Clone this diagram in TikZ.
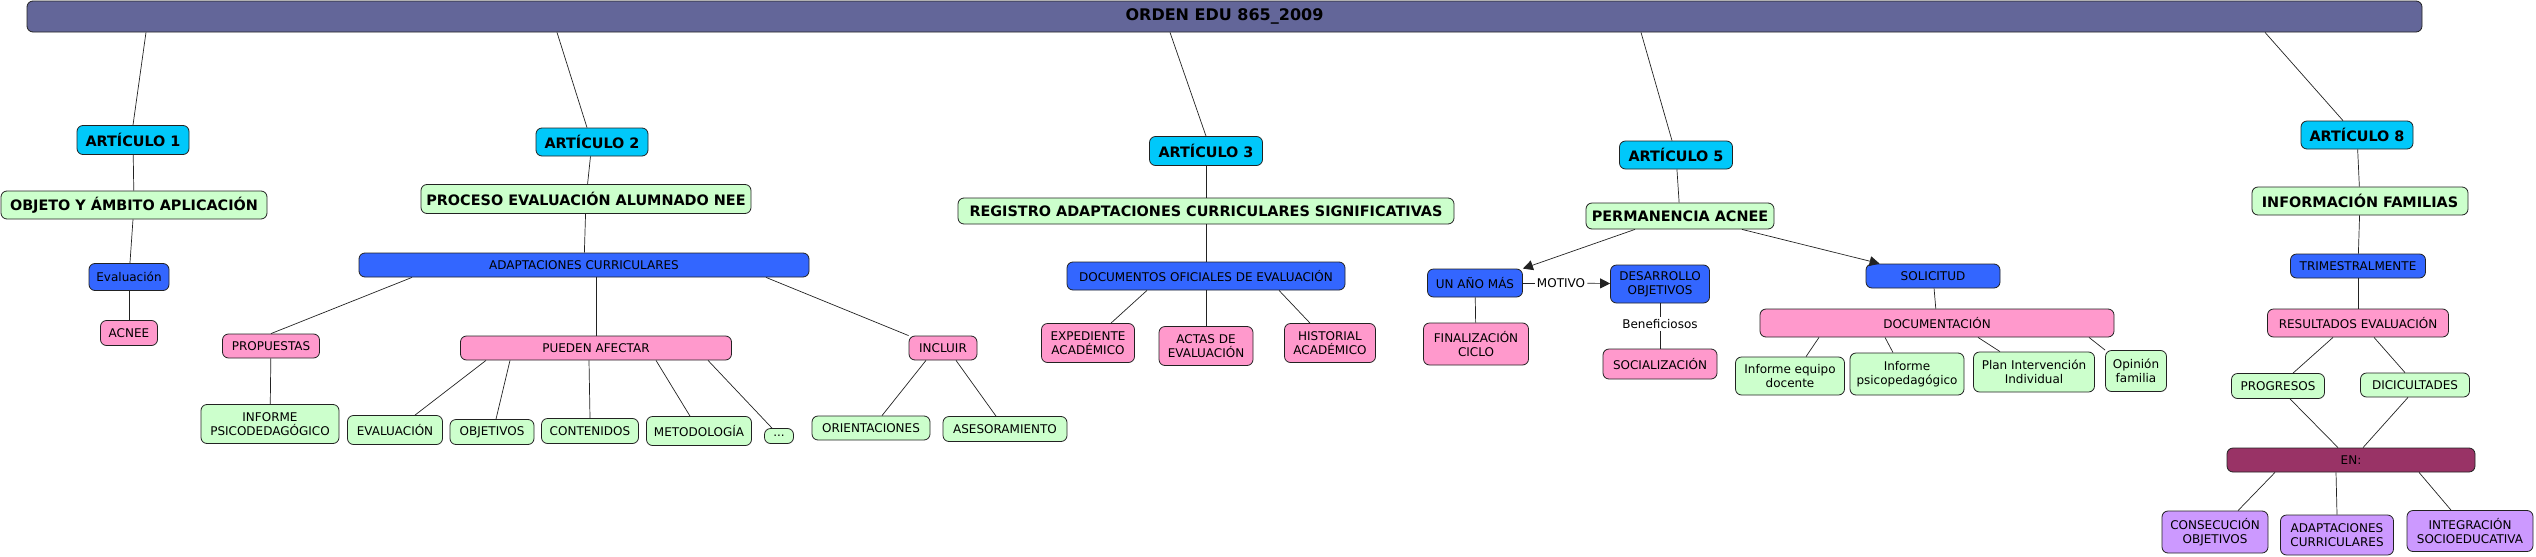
\documentclass[tikz,border=0pt]{standalone}
\usepackage{fontspec}
\setmainfont{DejaVu Sans}
\usetikzlibrary{arrows.meta}
\definecolor{bdr}{HTML}{222222}
\definecolor{cTit}{HTML}{636699}
\definecolor{cArt}{HTML}{00C8FA}
\definecolor{cVerde}{HTML}{CCFFCC}
\definecolor{cAzul}{HTML}{3366FF}
\definecolor{cRosa}{HTML}{FF99CC}
\definecolor{cEn}{HTML}{993366}
\definecolor{cLila}{HTML}{CC99FF}
\tikzset{
  % concept boxes (all rounded, thin dark border)
  box/.style={draw=bdr, rounded corners=6pt, line width=0.8pt, align=center,
    inner sep=2pt, font=\fontsize{12}{14.3}\selectfont},
  art/.style={box, fill=cArt, font=\fontsize{14.4}{17}\selectfont\bfseries},   % ARTÍCULO n
  tema/.style={box, fill=cVerde, font=\fontsize{14.4}{17}\selectfont\bfseries},% article topic
  azul/.style={box, fill=cAzul},
  rosa/.style={box, fill=cRosa},
  verde/.style={box, fill=cVerde},
  lila/.style={box, fill=cLila},
  % link phrases sitting on a connector
  frase/.style={fill=white, inner sep=2pt, font=\fontsize{12}{14.3}\selectfont},
  E/.style={draw=bdr, line width=0.7pt},
  A/.style={E, -{Triangle[length=10pt,width=10pt]}},
}

\begin{document}
\begin{tikzpicture}[x=1pt, y=-1pt]
\useasboundingbox (0,0) rectangle (2536,557);

% =====================================================================
% TITLE BAR
% =====================================================================
\node[box, fill=cTit, minimum width=2395pt, minimum height=31pt,
      font=\fontsize{16}{19}\selectfont\bfseries] (top) at (1224.5,16.5) {ORDEN EDU 865\_2009};

% =====================================================================
% ARTÍCULO 1
% =====================================================================
\node[art, minimum width=112pt, minimum height=29pt] (a1) at (133,140) {ARTÍCULO 1};
\node[tema, minimum width=266pt, minimum height=28pt] (obj) at (134,205) {OBJETO Y ÁMBITO APLICACIÓN};
\node[azul, minimum width=80pt, minimum height=27pt] (eva) at (129,277) {Evaluación};
\node[rosa, minimum width=57pt, minimum height=25pt] (acnee) at (129,333) {ACNEE};

\draw[E] ([xshift=-1078.5pt]top.south) -- (a1.north);
\draw[E] (a1) -- (obj);
\draw[E] (obj) -- (eva);
\draw[E] (eva) -- (acnee);

% =====================================================================
% ARTÍCULO 2
% =====================================================================
\node[art, minimum width=112pt, minimum height=28pt] (a2) at (592,142) {ARTÍCULO 2};
\node[tema, minimum width=330pt, minimum height=29pt] (proc) at (586,199) {PROCESO EVALUACIÓN ALUMNADO NEE};
\node[azul, minimum width=450pt, minimum height=24pt] (adap) at (584,265) {ADAPTACIONES CURRICULARES};

\node[rosa, minimum width=97pt, minimum height=24pt] (prop) at (271,346) {PROPUESTAS};
\node[verde, minimum width=138pt, minimum height=39pt] (infp) at (270,424) {INFORME\\PSICODEDAGÓGICO};

\node[rosa, minimum width=271pt, minimum height=24pt] (afec) at (596,348) {PUEDEN AFECTAR};
\node[verde, minimum width=95pt, minimum height=29pt] (kev) at (395,430) {EVALUACIÓN};
\node[verde, minimum width=84pt, minimum height=25pt] (kob) at (492,432) {OBJETIVOS};
\node[verde, minimum width=97pt, minimum height=25pt] (kco) at (590,431) {CONTENIDOS};
\node[verde, minimum width=105pt, minimum height=29pt] (kme) at (699,431) {METODOLOGÍA};
\node[verde, minimum width=29pt, minimum height=15pt, inner sep=0pt] (ket) at (779,436) {...};

\node[rosa, minimum width=68pt, minimum height=24pt] (incl) at (943,348) {INCLUIR};
\node[verde, minimum width=118pt, minimum height=24pt] (orie) at (871,428) {ORIENTACIONES};
\node[verde, minimum width=124pt, minimum height=25pt] (ases) at (1005,429) {ASESORAMIENTO};

\draw[E] ([xshift=-667.5pt]top.south) -- ([xshift=-5pt]a2.north);
\draw[E] (a2) -- (proc);
\draw[E] (proc) -- (adap);
\draw[E] ([xshift=-172pt]adap.south) -- (prop.north);
\draw[E] (prop) -- (infp);
\draw[E] ([xshift=12pt]adap.south) -- (afec.north);
\draw[E] ([xshift=182pt]adap.south) -- (incl.north west);
\draw[E] ([xshift=-110pt]afec.south) -- ([xshift=20pt]kev.north);
\draw[E] ([xshift=-86pt]afec.south) -- ([xshift=4pt]kob.north);
\draw[E] ([xshift=-7pt]afec.south) -- (kco.north);
\draw[E] ([xshift=60pt]afec.south) -- ([xshift=-9pt]kme.north);
\draw[E] ([xshift=112pt]afec.south) -- ([xshift=-7pt]ket.north);
\draw[E] ([xshift=-17pt]incl.south) -- ([xshift=11pt]orie.north);
\draw[E] ([xshift=13pt]incl.south) -- ([xshift=-9pt]ases.north);

% =====================================================================
% ARTÍCULO 3
% =====================================================================
\node[art, minimum width=113pt, minimum height=29pt] (a3) at (1206,151) {ARTÍCULO 3};
\node[tema, minimum width=496pt, minimum height=26pt] (reg) at (1206,211) {REGISTRO ADAPTACIONES CURRICULARES SIGNIFICATIVAS};
\node[azul, minimum width=278pt, minimum height=28pt] (doc) at (1206,276) {DOCUMENTOS OFICIALES DE EVALUACIÓN};
\node[rosa, minimum width=93pt, minimum height=39pt] (expd) at (1088,343) {EXPEDIENTE\\ACADÉMICO};
\node[rosa, minimum width=94pt, minimum height=39pt] (act) at (1206,346) {ACTAS DE\\EVALUACIÓN};
\node[rosa, minimum width=91pt, minimum height=39pt] (his) at (1330,343) {HISTORIAL\\ACADÉMICO};

\draw[E] ([xshift=-54.5pt]top.south) -- (a3.north);
\draw[E] (a3) -- (reg);
\draw[E] (reg) -- (doc);
\draw[E] ([xshift=-59pt]doc.south) -- ([xshift=23pt]expd.north);
\draw[E] (doc) -- (act);
\draw[E] ([xshift=73pt]doc.south) -- ([xshift=-20pt]his.north);

% =====================================================================
% ARTÍCULO 5
% =====================================================================
\node[art, minimum width=113pt, minimum height=28pt] (a5) at (1676,155) {ARTÍCULO 5};
\node[tema, minimum width=188pt, minimum height=26pt] (perm) at (1680,216) {PERMANENCIA ACNEE};
\node[azul, minimum width=95pt, minimum height=28pt] (anio) at (1475,283) {UN AÑO MÁS};
\node[frase] (moti) at (1561,283) {MOTIVO};
\node[azul, minimum width=99pt, minimum height=38pt] (desa) at (1660,284) {DESARROLLO\\OBJETIVOS};
\node[rosa, minimum width=105pt, minimum height=42pt] (fin) at (1476,344) {FINALIZACIÓN\\CICLO};
\node[frase] (bene) at (1660,324) {Beneficiosos};
\node[rosa, minimum width=114pt, minimum height=30pt] (soc) at (1660,364) {SOCIALIZACIÓN};

\node[azul, minimum width=134pt, minimum height=24pt] (sol) at (1933,276) {SOLICITUD};
\node[rosa, minimum width=354pt, minimum height=28pt] (docu) at (1937,323) {DOCUMENTACIÓN};
\node[verde, minimum width=109pt, minimum height=38pt] (ieq) at (1790,376) {Informe equipo\\docente};
\node[verde, minimum width=114pt, minimum height=42pt] (ips) at (1907,374) {Informe\\psicopedagógico};
\node[verde, minimum width=121pt, minimum height=40pt] (pii) at (2034,372) {Plan Intervención\\Individual};
\node[verde, minimum width=61pt, minimum height=41pt] (opi) at (2136,371) {Opinión\\familia};

\draw[E] ([xshift=416.5pt]top.south) -- ([xshift=-4pt]a5.north);
\draw[E] (a5) -- (perm);
\draw[A] ([xshift=-45pt]perm.south) -- (anio.north east);
\draw[A] ([xshift=62pt]perm.south) -- ([xshift=14pt]sol.north west);
\draw[E] (anio) -- (fin);
\draw[E] (anio) -- (moti);
\draw[A] (moti) -- (desa);
\draw[E] (desa) -- (bene);
\draw[E] (bene) -- (soc);
\draw[E] (sol) -- (docu);
\draw[E] ([xshift=-118pt]docu.south) -- ([xshift=16pt]ieq.north);
\draw[E] ([xshift=-52pt]docu.south) -- ([xshift=-14pt]ips.north);
\draw[E] ([xshift=41pt]docu.south) -- ([xshift=-34pt]pii.north);
\draw[E] ([xshift=152pt]docu.south) -- (opi.north west);

% =====================================================================
% ARTÍCULO 8
% =====================================================================
\node[art, minimum width=112pt, minimum height=28pt] (a8) at (2357,135) {ARTÍCULO 8};
\node[tema, minimum width=216pt, minimum height=28pt] (inf) at (2360,201) {INFORMACIÓN FAMILIAS};
\node[azul, minimum width=135pt, minimum height=24pt] (tri) at (2358,266) {TRIMESTRALMENTE};
\node[rosa, minimum width=181pt, minimum height=28pt] (res) at (2358,323) {RESULTADOS EVALUACIÓN};
\node[verde, minimum width=93pt, minimum height=25pt] (pro) at (2278,386) {PROGRESOS};
\node[verde, minimum width=109pt, minimum height=24pt] (dif) at (2415,385) {DICICULTADES};
\node[box, fill=cEn, minimum width=248pt, minimum height=24pt] (en) at (2351,460) {EN:};
\node[lila, minimum width=106pt, minimum height=42pt] (con) at (2215,532) {CONSECUCIÓN\\OBJETIVOS};
\node[lila, minimum width=113pt, minimum height=40pt] (adc) at (2337,535) {ADAPTACIONES\\CURRICULARES};
\node[lila, minimum width=126pt, minimum height=41pt] (soe) at (2470,531) {INTEGRACIÓN\\SOCIOEDUCATIVA};

\draw[E] ([xshift=1040.5pt]top.south) -- ([xshift=-14pt]a8.north);
\draw[E] (a8) -- (inf);
\draw[E] (inf) -- (tri);
\draw[E] (tri) -- (res);
\draw[E] ([xshift=-25pt]res.south) -- ([xshift=15pt]pro.north);
\draw[E] ([xshift=16pt]res.south) -- ([xshift=-10pt]dif.north);
\draw[E] ([xshift=12pt]pro.south) -- ([xshift=-13pt]en.north);
\draw[E] ([xshift=-7pt]dif.south) -- ([xshift=12pt]en.north);
\draw[E] ([xshift=-76pt]en.south) -- ([xshift=23pt]con.north);
\draw[E] ([xshift=-15pt]en.south) -- (adc.north);
\draw[E] ([xshift=68pt]en.south) -- ([xshift=-19pt]soe.north);

\end{tikzpicture}
\end{document}
